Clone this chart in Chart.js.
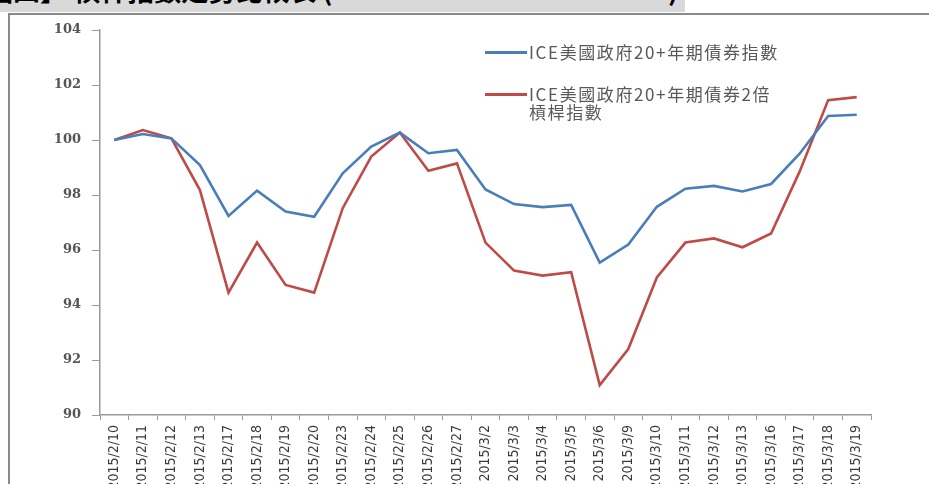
<!DOCTYPE html>
<html>
<head>
<meta charset="utf-8">
<script src="https://cdn.jsdelivr.net/npm/chart.js@4/dist/chart.umd.min.js"></script>
<style>
  html, body { margin: 0; padding: 0; background: #fff; width: 929px; height: 484px; overflow: hidden; }
  #band { position: absolute; left: 0; top: 0; width: 685px; height: 12px; background: #d9d9d9; overflow: hidden; }
  #band span { position: absolute; top: -25px; font: bold 27px "Noto Sans CJK TC", sans-serif; color: #000; white-space: nowrap; line-height: 30px; }
  #frame { position: absolute; left: 8px; top: 13px; width: 930px; height: 480px; border-left: 2px solid #8a8a8a; border-top: 2px solid #8a8a8a; }
  #wrap { position: absolute; left: 11px; top: 16px; width: 918px; height: 500px; }
</style>
</head>
<body>
<div id="band"><span style="left:-14px">圖四】 槓桿指數走勢比較表 (</span><span style="left:490px">～</span><span style="left:668px">)</span></div>
<div id="frame"></div>
<div id="wrap"><canvas id="c" width="918" height="500"></canvas></div>
<script>
const categories = ["2015/2/10","2015/2/11","2015/2/12","2015/2/13","2015/2/17","2015/2/18","2015/2/19","2015/2/20","2015/2/23","2015/2/24","2015/2/25","2015/2/26","2015/2/27","2015/3/2","2015/3/3","2015/3/4","2015/3/5","2015/3/6","2015/3/9","2015/3/10","2015/3/11","2015/3/12","2015/3/13","2015/3/16","2015/3/17","2015/3/18","2015/3/19"];
const seriesNames = ["ICE美國政府20+年期債券指數", "ICE美國政府20+年期債券2倍\n槓桿指數"];
const index20 = [100.0,100.22,100.06,99.09,97.24,98.16,97.4,97.21,98.79,99.76,100.27,99.52,99.64,98.2,97.67,97.56,97.64,95.54,96.2,97.57,98.23,98.33,98.13,98.4,99.5,100.87,100.92];
const index2x = [100.0,100.36,100.06,98.18,94.45,96.27,94.73,94.45,97.52,99.4,100.27,98.88,99.15,96.27,95.25,95.07,95.19,91.09,92.4,95.0,96.27,96.42,96.1,96.6,98.85,101.45,101.56];
const yTicks = { min: 90, max: 104, step: 2 };

const legendPlugin = {
  id: 'customLegend',
  afterDraw(chart) {
    const ctx = chart.ctx;
    const rows = [36.5, 78.5];
    ctx.save();
    chart.data.datasets.forEach((ds, i) => {
      const y = rows[i];
      ctx.strokeStyle = ds.borderColor;
      ctx.lineWidth = 3;
      ctx.beginPath(); ctx.moveTo(474, y); ctx.lineTo(516, y); ctx.stroke();
      ctx.fillStyle = '#595959';
      ctx.font = '17px "Noto Sans CJK TC", sans-serif';
      ctx.letterSpacing = '1.6px';
      ctx.textBaseline = 'middle';
      ctx.textAlign = 'left';
      ds.label.split('\n').forEach((line, j) => {
        ctx.fillText(line, 518, y + j * 18.5);
      });
    });
    ctx.restore();
  }
};

new Chart(document.getElementById('c'), {
  type: 'line',
  data: {
    labels: categories,
    datasets: [
      { label: seriesNames[0], data: index20, borderColor: '#4A7EBB', backgroundColor: '#4A7EBB', borderWidth: 2.6, pointRadius: 0, tension: 0 },
      { label: seriesNames[1], data: index2x, borderColor: '#BE4B48', backgroundColor: '#BE4B48', borderWidth: 2.6, pointRadius: 0, tension: 0 }
    ]
  },
  options: {
    responsive: false,
    devicePixelRatio: 1,
    animation: false,
    layout: { padding: { left: 0, right: 58, top: 14, bottom: 0 } },
    plugins: { legend: { display: false }, tooltip: { enabled: false }, title: { display: false } },
    scales: {
      x: {
        type: 'category',
        offset: true,
        grid: { display: true, drawOnChartArea: false, drawTicks: true, tickLength: 5, offset: true, color: '#9a9a9a' },
        border: { display: true, color: '#9a9a9a', width: 1.5 },
        ticks: {
          autoSkip: false, maxRotation: 90, minRotation: 90, padding: 5,
          color: '#3a3a3a',
          font: { family: '"Liberation Sans Narrow", "DejaVu Sans Condensed", "Liberation Sans", sans-serif', size: 14 }
        },
        afterFit(scale) { scale.height = 101; }
      },
      y: {
        min: yTicks.min, max: yTicks.max,
        grid: { display: true, drawOnChartArea: false, drawTicks: true, tickLength: 8, color: '#9a9a9a' },
        border: { display: true, color: '#9a9a9a', width: 1.5 },
        ticks: {
          stepSize: yTicks.step, padding: 11,
          color: '#555555',
          font: { family: '"DejaVu Serif", serif', size: 13, weight: 'bold' }
        },
        afterFit(scale) { scale.width = 89; scale.paddingTop = 0; scale.paddingBottom = 0; }
      }
    }
  },
  plugins: [legendPlugin]
});
</script>
</body>
</html>
